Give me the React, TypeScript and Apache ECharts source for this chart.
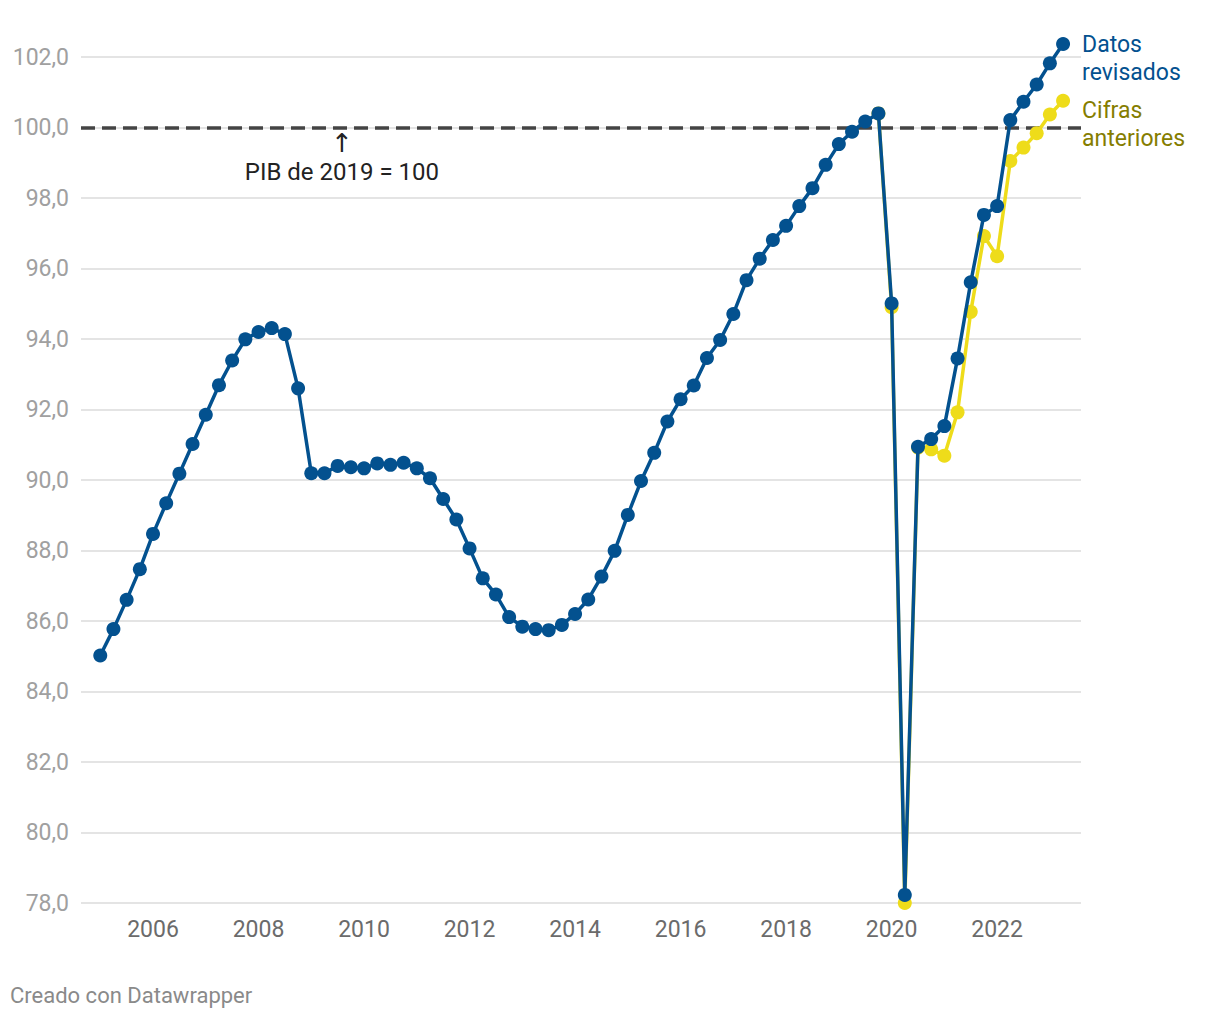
import React, { useEffect, useRef } from "react";
import * as echarts from "echarts";

const startYear = 2005;
// Índice PIB trimestral, datos revisados (2005-T1 .. 2023-T2)
const revisados: number[] = [
  85.02, 85.77, 86.6, 87.47,
  88.47, 89.34, 90.18, 91.02,
  91.85, 92.69, 93.39, 93.99,
  94.2, 94.31, 94.14, 92.6,
  90.19, 90.19, 90.4, 90.36,
  90.33, 90.47, 90.43, 90.49,
  90.33, 90.05, 89.46, 88.88,
  88.06, 87.21, 86.75, 86.11,
  85.84, 85.77, 85.74, 85.89,
  86.2, 86.61, 87.26, 87.99,
  89.01, 89.97, 90.77, 91.66,
  92.29, 92.68, 93.46, 93.97,
  94.71, 95.67, 96.28, 96.81,
  97.21, 97.77, 98.28, 98.94,
  99.53, 99.88, 100.17, 100.4,
  95.01, 78.23, 90.94, 91.16,
  91.53, 93.45, 95.61, 97.52,
  97.77, 100.21, 100.73, 101.22,
  101.82, 102.37,
];
// Cifras anteriores (desde 2019-T4)
const anterioresStart = 59;
const anteriores: number[] = [
  100.4,
  94.9, 78.0, 90.92, 90.87,
  90.69, 91.92, 94.77, 96.92,
  96.35, 99.05, 99.43, 99.84,
  100.37, 100.76,
];
const xTicks = [2006, 2008, 2010, 2012, 2014, 2016, 2018, 2020, 2022];
const refValue = 100;
const refLabel = "PIB de 2019 = 100";
const annotX = 2009.58;

const BLUE = "#03518f";
const YELLOW = "#eedc1a";
const FONT = "Roboto";

export default function App() {
  const ref = useRef<HTMLDivElement>(null);
  useEffect(() => {
    if (!ref.current) return;
    const chart = echarts.init(ref.current, undefined, { renderer: "svg" });
    const blueData = revisados.map((v, i) => [startYear + i / 4, v]);
    const yellowData = anteriores.map((v, i) => [startYear + (anterioresStart + i) / 4, v]);
    chart.setOption({
      animation: false,
      backgroundColor: "#ffffff",
      textStyle: { fontFamily: FONT },
      grid: { left: 81, right: 139, top: 57, bottom: 117, containLabel: false },
      xAxis: {
        type: "value",
        min: 2004.635,
        max: 2023.59,
        axisLine: { show: false },
        axisTick: { show: false },
        splitLine: { show: false },
        axisLabel: {
          customValues: xTicks,
          fontSize: 23,
          color: "#6b6b6b",
          fontFamily: FONT,
          margin: 15,
          formatter: (v: number) => String(Math.round(v)),
        },
      },
      yAxis: {
        type: "value",
        min: 78,
        max: 102,
        interval: 2,
        axisLine: { show: false },
        axisTick: { show: false },
        splitLine: { lineStyle: { color: "#e4e4e4", width: 2 } },
        axisLabel: {
          fontSize: 23,
          color: "#a0a0a0",
          fontFamily: FONT,
          margin: 12,
          formatter: (v: number) => v.toFixed(1).replace(".", ","),
        },
      },
      series: [
        {
          type: "line",
          name: "Cifras anteriores",
          data: yellowData,
          clip: false,
          symbol: "circle",
          symbolSize: 14,
          lineStyle: { color: YELLOW, width: 3.5 },
          itemStyle: { color: YELLOW },
          z: 2,
          endLabel: {
            show: true,
            formatter: "Cifras\nanteriores",
            color: "#857d00",
            fontSize: 23,
            lineHeight: 28,
            fontFamily: FONT,
            distance: 19,
            verticalAlign: "top",
            offset: [0, -4],
          },
        },
        {
          type: "line",
          name: "Datos revisados",
          data: blueData,
          clip: false,
          symbol: "circle",
          symbolSize: 14,
          lineStyle: { color: BLUE, width: 3.5 },
          itemStyle: { color: BLUE },
          z: 3,
          endLabel: {
            show: true,
            formatter: "Datos\nrevisados",
            color: BLUE,
            fontSize: 23,
            lineHeight: 28,
            fontFamily: FONT,
            distance: 19,
            verticalAlign: "top",
            offset: [0, -13],
          },
          markLine: {
            silent: true,
            symbol: "none",
            label: { show: false },
            lineStyle: { color: "#444444", width: 3.5, type: [14, 7] },
            data: [{ yAxis: refValue }],
            z: 1,
          },
          markPoint: {
            silent: true,
            symbol: "rect",
            symbolSize: 2,
            itemStyle: { color: "rgba(0,0,0,0)" },
            data: [{ coord: [annotX, refValue] }],
            label: {
              show: true,
              position: "bottom",
              distance: 0,
              formatter: "{a|↑}\n" + refLabel,
              fontSize: 24,
              lineHeight: 29,
              color: "#222222",
              fontFamily: FONT,
              align: "center",
              rich: {
                a: { fontSize: 26, lineHeight: 29, color: "#222222", fontFamily: "DejaVu Sans" },
              },
            },
          },
        },
      ],
      graphic: [
        {
          type: "text",
          left: 10,
          top: 984,
          style: { text: "Creado con Datawrapper", fontSize: 22, fill: "#8a8a8a", fontFamily: FONT },
        },
      ],
    });
    return () => chart.dispose();
  }, []);
  return (
    <div
      ref={ref}
      style={{ position: "absolute", left: 0, top: 0, width: 1220, height: 1020, background: "#fff" }}
    />
  );
}
